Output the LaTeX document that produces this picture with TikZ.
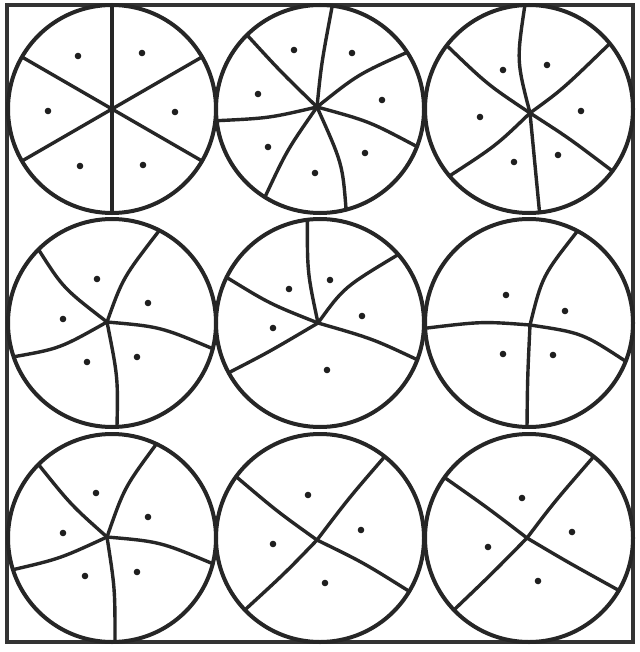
\documentclass[tikz,border=0pt]{standalone}
\usetikzlibrary{calc}
\tikzset{
  ring/.style={draw=black!85, line width=4pt},
  spk/.style={draw=black!85, line width=3.4pt, line cap=round},
  frame/.style={draw=black!80, line width=3.4pt},
  pt/.style={fill=black!88, draw=none}
}
\newcommand\myspoke[4]{%
  \coordinate (tmpE) at ($(#2)!104pt!(#4)$);
  \coordinate (tmpP) at ($(#1)!0.5!(tmpE)$);
  \coordinate (tmpC) at ($(tmpP)!2!(#3)$);
  \draw[spk] (#1) .. controls (tmpC) .. (tmpE);}
\newcommand\mydot[1]{\fill[pt] (#1) circle (3.3pt);}
\begin{document}
\begin{tikzpicture}[x=1pt,y=-1pt]
\useasboundingbox (0,0) rectangle (639,652);
\fill[white] (0,0) rectangle (639,652);
% frame
\draw[frame] (7,5) rectangle (633,642);
% centres
\coordinate (c1) at (112,109);
\coordinate (c2) at (320,109);
\coordinate (c3) at (529,109);
\coordinate (c4) at (112,323);
\coordinate (c5) at (320,323);
\coordinate (c6) at (529,323);
\coordinate (c7) at (112,538);
\coordinate (c8) at (320,538);
\coordinate (c9) at (529,538);
% junctions
\coordinate (J1) at (112,109);
\coordinate (J2) at (317,107);
\coordinate (J3) at (530,113);
\coordinate (J4) at (107,322);
\coordinate (J5) at (318,323);
\coordinate (J6) at (530,325);
\coordinate (J7) at (107,537);
\coordinate (J8) at (317,540);
\coordinate (J9) at (527,538);
% circles
\foreach \c in {c1,c2,c3,c4,c5,c6,c7,c8,c9}{\draw[ring] (\c) circle (104pt);}
% ---- circle 1: six straight spokes
\myspoke{J1}{c1}{112,60}{112,0}
\myspoke{J1}{c1}{112,160}{112,220}
\myspoke{J1}{c1}{157,83}{202,57}
\myspoke{J1}{c1}{67,83}{22,57}
\myspoke{J1}{c1}{157,135}{202,161}
\myspoke{J1}{c1}{67,135}{22,161}
\mydot{78,56}\mydot{142,53}\mydot{48,111}\mydot{175,112}\mydot{80,166}\mydot{143,165}
% ---- circle 2: seven curved spokes
\myspoke{J2}{c2}{323,60}{332,8}
\myspoke{J2}{c2}{360,77}{403,55}
\myspoke{J2}{c2}{368,124}{418,147}
\myspoke{J2}{c2}{337,161}{348,217}
\myspoke{J2}{c2}{289,151}{265,197}
\myspoke{J2}{c2}{268,116}{223,120}
\myspoke{J2}{c2}{281,71}{250,38}
\mydot{294,50}\mydot{352,53}\mydot{258,94}\mydot{382,100}\mydot{268,147}\mydot{365,153}\mydot{315,173}
% ---- circle 3: six curved spokes
\myspoke{J3}{c3}{522,60}{525,8}
\myspoke{J3}{c3}{566,84}{608,45}
\myspoke{J3}{c3}{570,140}{607,167}
\myspoke{J3}{c3}{535,163}{540,217}
\myspoke{J3}{c3}{493,145}{453,173}
\myspoke{J3}{c3}{488,82}{450,48}
\mydot{503,70}\mydot{547,65}\mydot{480,117}\mydot{581,111}\mydot{514,162}\mydot{558,155}
% ---- circle 4: five curved spokes
\myspoke{J4}{c4}{68,287}{37,248}
\myspoke{J4}{c4}{128,277}{157,235}
\myspoke{J4}{c4}{160,331}{210,348}
\myspoke{J4}{c4}{115,376}{117,427}
\myspoke{J4}{c4}{60,344}{13,357}
\mydot{97,279}\mydot{148,303}\mydot{63,319}\mydot{87,362}\mydot{137,357}
% ---- circle 5: five curved spokes
\myspoke{J5}{c5}{310,272}{308,225}
\myspoke{J5}{c5}{351,288}{392,260}
\myspoke{J5}{c5}{370,340}{418,360}
\myspoke{J5}{c5}{271,350}{230,372}
\myspoke{J5}{c5}{271,302}{232,280}
\mydot{289,289}\mydot{330,280}\mydot{273,328}\mydot{362,316}\mydot{327,370}
% ---- circle 6: four curved spokes
\myspoke{J6}{c6}{548,277}{577,232}
\myspoke{J6}{c6}{480,324}{430,328}
\myspoke{J6}{c6}{580,338}{630,363}
\myspoke{J6}{c6}{528,377}{527,427}
\mydot{506,295}\mydot{565,311}\mydot{503,354}\mydot{553,355}
% ---- circle 7: five curved spokes
\myspoke{J7}{c7}{72,503}{37,463}
\myspoke{J7}{c7}{128,489}{155,447}
\myspoke{J7}{c7}{160,546}{210,563}
\myspoke{J7}{c7}{113,589}{115,642}
\myspoke{J7}{c7}{60,556}{12,570}
\mydot{96,493}\mydot{148,517}\mydot{63,533}\mydot{85,576}\mydot{137,572}
% ---- circle 8: four curved spokes
\myspoke{J8}{c8}{277,510}{238,478}
\myspoke{J8}{c8}{350,498}{382,460}
\myspoke{J8}{c8}{363,564}{407,590}
\myspoke{J8}{c8}{283,574}{250,605}
\mydot{308,495}\mydot{361,530}\mydot{273,544}\mydot{325,583}
% ---- circle 9: four curved spokes
\myspoke{J9}{c9}{487,508}{448,480}
\myspoke{J9}{c9}{557,500}{587,465}
\myspoke{J9}{c9}{570,563}{613,587}
\myspoke{J9}{c9}{491,574}{457,607}
\mydot{522,498}\mydot{572,532}\mydot{488,547}\mydot{538,581}
\end{tikzpicture}
\end{document}
